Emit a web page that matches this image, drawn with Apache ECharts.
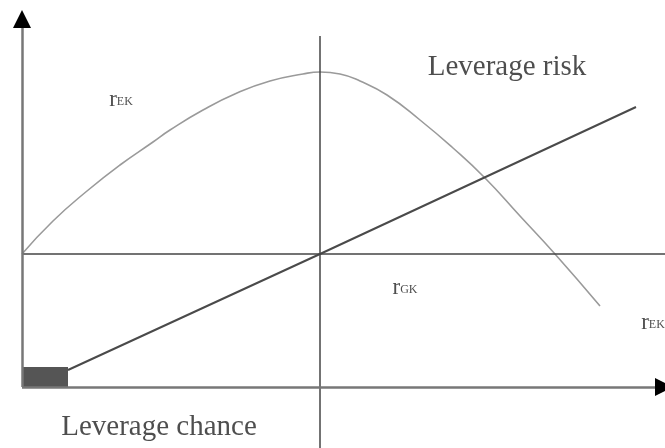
<!DOCTYPE html>
<html lang="en">
<head>
    <meta charset="UTF-8">
    <script src="https://cdn.jsdelivr.net/npm/echarts@6/dist/echarts.min.js"></script>
    <style>
        html,body{margin:0;padding:0;background:#fff}
        #chart{width:665px;height:448px}
    </style>
    <title>Leverage</title>
</head>
<body>
<div id="chart"></div>
<script type="text/javascript">
    // origin = crossing of the two middle lines
    var curveX = [-298, -267, -233, -200, -167, -150, -117, -83, -50, -17, 0, 20, 40, 67, 100, 133, 165, 200, 235, 280];
    var curveY = [0, 33, 63, 89, 112, 124, 144, 161, 173, 180, 182, 180, 173, 159, 134, 106, 76, 38, 0, -52];
    var lineX = [-252, 0, 316];
    var lineY = [-116, 0, 147];
    var axisX = [-298, 344];       // x axis from / to
    var axisY = [-133, 235];       // y axis from / to
    var midH = [-298, 345];        // horizontal middle line
    var midV = [-194, 218];        // vertical middle line
    var box = [[-298, -113], [-252, -133]];
    var labelNames = ['{r|r}{s|EK}', 'Leverage risk', '{r|r}{s|GK}', '{r|r}{s|EK}', 'Leverage chance'];
    var labelPos = [[-199, 154], [187, 187], [85, -34], [333, -69], [-161, -173]];

    function pairs(xs, ys) {
        var out = [];
        for (var i = 0; i < xs.length; i++) out.push([xs[i], ys[i]]);
        return out;
    }

    var ec = echarts.init(document.getElementById('chart'));
    var serif = 'Liberation Serif';
    var ink = '#222';
    var labels = labelNames.map(function (t, i) {
        return {
            value: labelPos[i],
            label: {
                show: true, position: 'inside', formatter: t,
                fontFamily: serif, fontSize: 29, color: ink,
                rich: {
                    r: {fontFamily: serif, fontSize: 23, color: ink},
                    s: {fontFamily: serif, fontSize: 12, color: ink, padding: [3, 0, 0, 0]}
                }
            }
        };
    });

    var option = {
        animation: false,
        grid: {left: 0, right: 0, top: 0, bottom: 0},
        xAxis: {type: 'value', min: -320, max: 345, show: false},
        yAxis: {type: 'value', min: -194, max: 254, show: false},
        series: [
            {
                type: 'line', data: pairs(curveX, curveY), smooth: 0.5, symbol: 'none',
                lineStyle: {color: '#9a9a9a', width: 1.6}, silent: true
            },
            {
                type: 'line', data: pairs(lineX, lineY), symbol: 'none',
                lineStyle: {color: '#4a4a4a', width: 2}, silent: true,
                markLine: {
                    silent: true, symbol: 'none', label: {show: false},
                    lineStyle: {color: '#444', width: 1.5, type: 'solid'},
                    data: [
                        [{coord: [midH[0], 0]}, {coord: [midH[1], 0]}],
                        [{coord: [0, midV[0]]}, {coord: [0, midV[1]]}]
                    ]
                },
                markArea: {
                    silent: true, itemStyle: {color: '#555'},
                    data: [[{coord: box[0]}, {coord: box[1]}]]
                }
            },
            {
                // axis shafts
                type: 'line', data: [], symbol: 'none',
                markLine: {
                    silent: true, symbol: 'none', label: {show: false},
                    lineStyle: {color: '#777', width: 2.5, type: 'solid'},
                    data: [
                        [{coord: [axisX[0], axisY[0]]}, {coord: [axisX[1], axisY[0]]}],
                        [{coord: [axisX[0], axisY[0]]}, {coord: [axisX[0], axisY[1]]}]
                    ]
                }
            },
            {
                // black arrow heads
                type: 'line', data: [], symbol: 'none',
                markLine: {
                    silent: true, symbol: ['none', 'triangle'], symbolSize: [18, 18],
                    label: {show: false},
                    lineStyle: {color: '#000', width: 2.5, type: 'solid'},
                    data: [
                        [{coord: [axisX[1] - 4, axisY[0]]}, {coord: [axisX[1], axisY[0]]}],
                        [{coord: [axisX[0], axisY[1] - 4]}, {coord: [axisX[0], axisY[1]]}]
                    ]
                }
            },
            {
                type: 'scatter', symbolSize: 0, data: labels, silent: true
            }
        ]
    };
    ec.setOption(option);
</script>
</body>
</html>
